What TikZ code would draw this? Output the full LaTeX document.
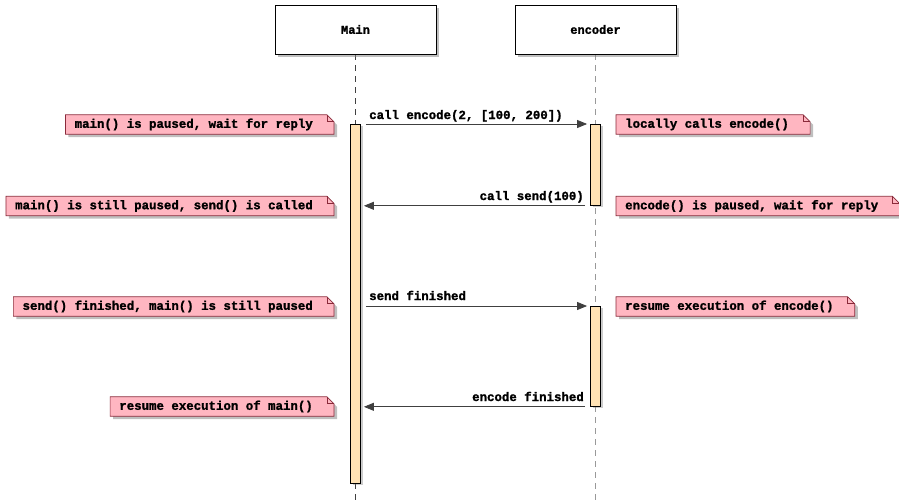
\documentclass[tikz,border=0pt]{standalone}
\usepackage{fontspec}
\setmonofont[BoldFeatures={FakeBold=1.5}]{Liberation Mono}
\usetikzlibrary{shadows,arrows.meta,backgrounds}
\definecolor{notefill}{HTML}{FFB6C1}
\definecolor{noteborder}{HTML}{8A2A3A}
\definecolor{actfill}{HTML}{FFE2B4}
\definecolor{msgcol}{HTML}{404040}
\tikzset{
  x=1pt, y=-1pt,
  titlebox/.style={draw=black, fill=white, line width=0.8pt, minimum width=161pt, minimum height=49pt,
    font=\ttfamily\bfseries\fontsize{12}{14}\selectfont,
    drop shadow={shadow xshift=3pt, shadow yshift=-3pt, opacity=0.5}},
  notetext/.style={inner xsep=9pt, inner ysep=0pt, minimum height=19pt,
    font=\ttfamily\bfseries\fontsize{12.4}{14}\selectfont},
  noteshape/.style={draw=noteborder, fill=notefill, line width=0.7pt,
    drop shadow={shadow xshift=3pt, shadow yshift=-3pt, opacity=0.5}},
  noteline/.style={draw=noteborder, line width=0.7pt},
  act/.style={draw=black, fill=actfill, line width=0.8pt, minimum width=10pt, inner sep=0pt, anchor=north,
    drop shadow={shadow xshift=2pt, shadow yshift=-2pt, opacity=0.4}},
  lifeline/.style={line width=1pt, dash pattern=on 6pt off 5pt},
  msg/.style={draw=msgcol, line width=0.8pt, -{Triangle[length=10pt,width=8pt]}, shorten <=5pt, shorten >=3pt},
  lbl/.style={inner sep=0pt, font=\ttfamily\bfseries\fontsize{12.4}{14}\selectfont},
}
\newcommand\mknote[4]{%
  \node[notetext, anchor=#2] (#1) at (#3) {#4\hspace*{12pt}};
  \path (#1.north east) coordinate (#1c);
  \begin{scope}[on background layer]
    \path[noteshape] (#1.south west) |- ([xshift=-7pt]#1c) -- ([yshift=-7pt]#1c) |- (#1.south west) -- cycle;
  \end{scope}
  \draw[noteline] ([xshift=-7pt]#1c) -- ([xshift=-7pt,yshift=-7pt]#1c) -- ([yshift=-7pt]#1c);
}
\begin{document}
\begin{tikzpicture}
\useasboundingbox (0,0) rectangle (899,501);
% participants
\node[titlebox] (mainbox) at (355.5,29.5) {Main};
\node[titlebox] (encbox) at (595.5,29.5) {encoder};
\coordinate (mainend) at (355.5,501);
\coordinate (encend) at (595.5,501);
\begin{scope}[on background layer]
\draw[lifeline, draw=black!75] (mainbox.south) -- (mainend);
\draw[lifeline, draw=black!40] (encbox.south) -- (encend);
\end{scope}
% activations
\node[act, minimum height=359pt] (ma) at (355.5,124) {};
\node[act, minimum height=81pt] (ea1) at (595.5,124) {};
\node[act, minimum height=100pt] (ea2) at (595.5,306) {};
% messages
\draw[msg] (ma.east |- ea1.north) -- (ea1.north west);
\draw[msg] (ea1.south west) -- (ma.east |- ea1.south);
\draw[msg] (ma.east |- ea2.north) -- (ea2.north west);
\draw[msg] (ea2.south west) -- (ma.east |- ea2.south);
\node[lbl, anchor=base west] (l1) at (369,119) {call encode(2, [100, 200])};
\node[lbl, anchor=base east] (l2) at (584,200) {call send(100)};
\node[lbl, anchor=base west] (l3) at (369,300) {send finished};
\node[lbl, anchor=base east] (l4) at (584,401) {encode finished};
% notes
\mknote{n1}{east}{334,124.5}{main() is paused, wait for reply}
\mknote{n2}{east}{334,206}{main() is still paused, send() is called}
\mknote{n3}{east}{334,306.5}{send() finished, main() is still paused}
\mknote{n4}{east}{334,406.5}{resume execution of main()}
\mknote{n5}{west}{616,124.5}{locally calls encode()}
\mknote{n6}{west}{616,206}{encode() is paused, wait for reply}
\mknote{n7}{west}{616,306.5}{resume execution of encode()}
\end{tikzpicture}
\end{document}
